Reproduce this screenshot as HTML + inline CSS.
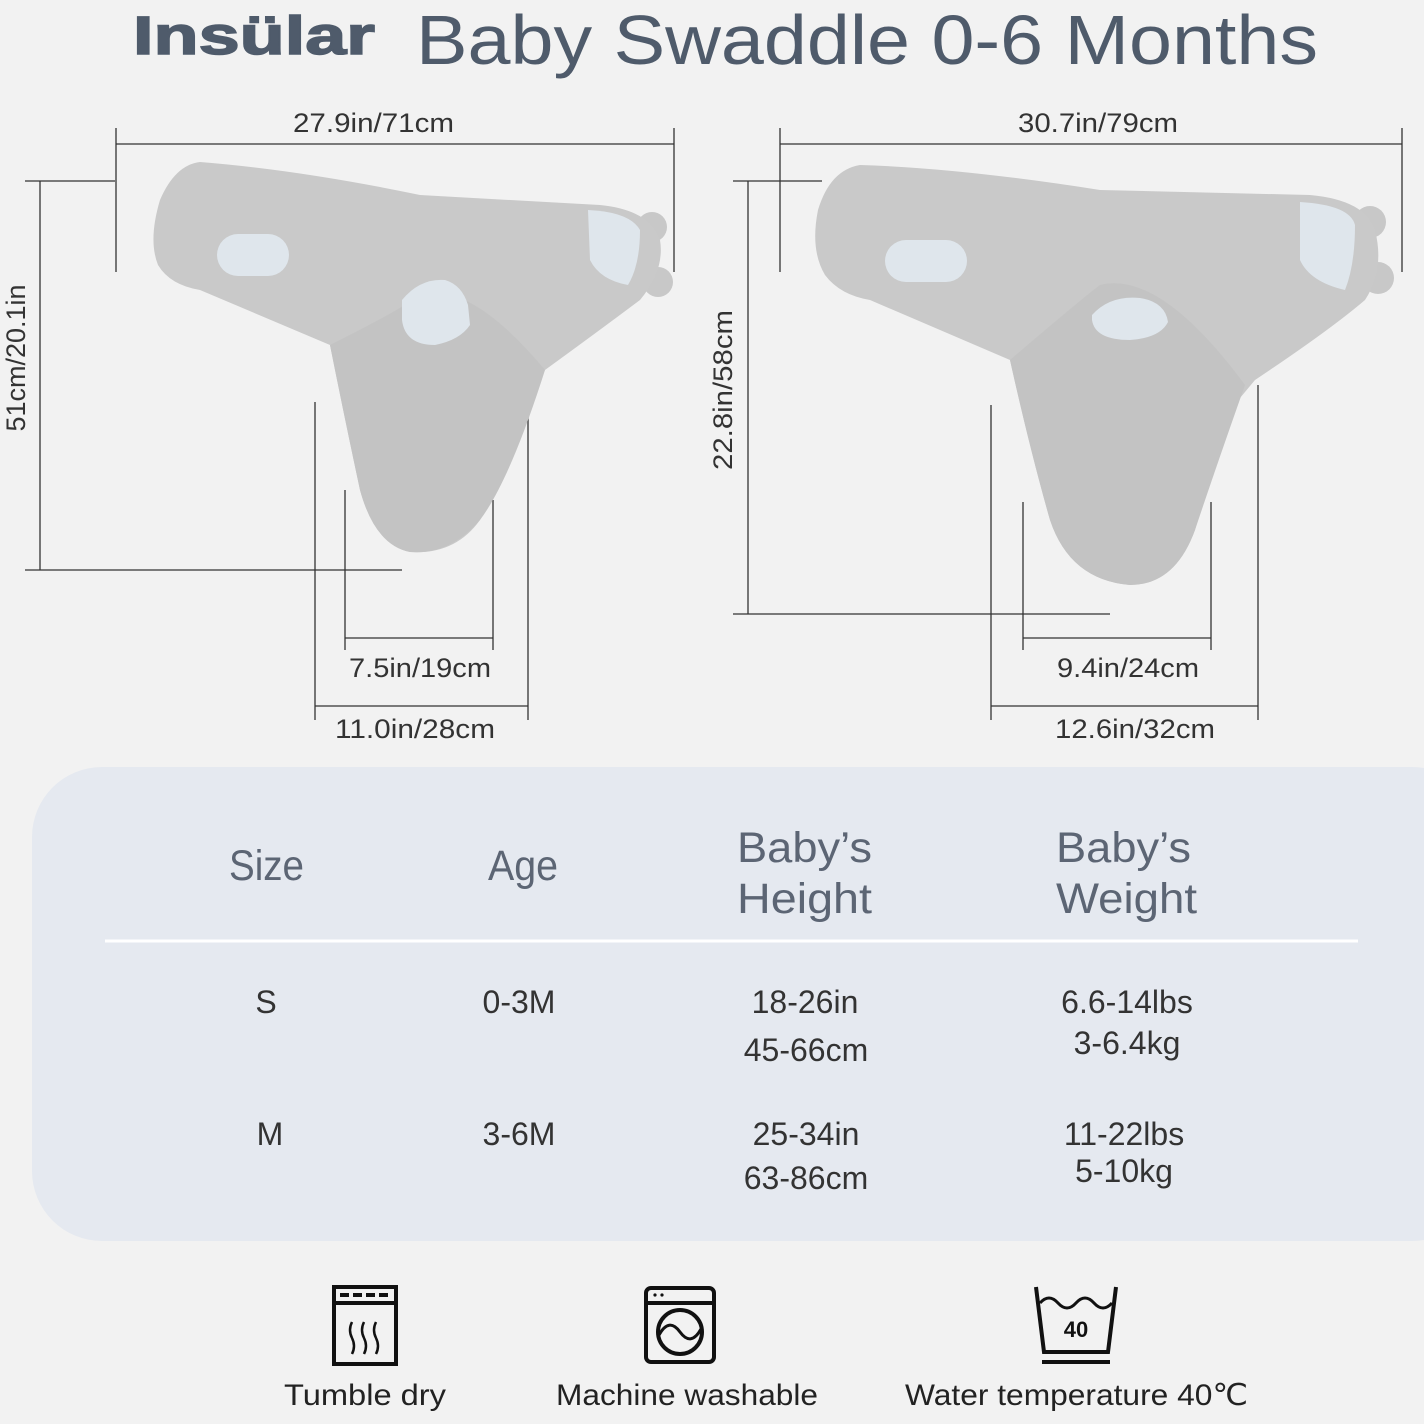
<!DOCTYPE html>
<html><head><meta charset="utf-8"><style>
html,body{margin:0;padding:0;background:#f2f2f2;}
svg{display:block;font-family:"Liberation Sans","DejaVu Sans",sans-serif;}
</style></head><body>
<svg width="1424" height="1424" viewBox="0 0 1424 1424" xmlns="http://www.w3.org/2000/svg">
<rect width="1424" height="1424" fill="#f2f2f2"/>
<!-- title -->
<text x="133" y="54" font-size="54" font-weight="bold" fill="#4f5b6b" textLength="242" lengthAdjust="spacingAndGlyphs" stroke="#4f5b6b" stroke-width="1.5">Insülar</text>
<text x="416" y="64" font-size="70" fill="#4f5b6b" textLength="902" lengthAdjust="spacingAndGlyphs">Baby Swaddle 0-6 Months</text>

<!-- left swaddle dims -->
<g stroke="#333" stroke-width="1.3" fill="none">
<line x1="116" y1="144" x2="674" y2="144"/><line x1="116" y1="128" x2="116" y2="272"/><line x1="674" y1="128" x2="674" y2="272"/>
<line x1="25" y1="181" x2="115" y2="181"/><line x1="40" y1="181" x2="40" y2="570"/><line x1="25" y1="570" x2="402" y2="570"/>
<line x1="345" y1="638" x2="493" y2="638"/><line x1="345" y1="490" x2="345" y2="650"/><line x1="493" y1="500" x2="493" y2="650"/>
<line x1="315" y1="706" x2="528" y2="706"/><line x1="315" y1="402" x2="315" y2="720"/><line x1="528" y1="385" x2="528" y2="720"/>
</g>
<text x="293" y="132" font-size="27" fill="#333" textLength="161" lengthAdjust="spacingAndGlyphs">27.9in/71cm</text>
<text transform="translate(25,358) rotate(-90)" font-size="27" fill="#333" text-anchor="middle">51cm/20.1in</text>
<text x="349" y="677" font-size="27" fill="#333" textLength="142" lengthAdjust="spacingAndGlyphs">7.5in/19cm</text>
<text x="335" y="738" font-size="27" fill="#333" textLength="160" lengthAdjust="spacingAndGlyphs">11.0in/28cm</text>

<!-- left swaddle -->
<g>
<circle cx="652" cy="227" r="15" fill="#c8c8c8"/><circle cx="658" cy="282" r="15" fill="#c8c8c8"/>
<path d="M200 162 Q175 165 160 200 Q148 240 158 265 Q170 285 200 290 L330 345 Q345 420 360 490 Q375 545 410 552 Q455 555 480 520 Q505 470 520 420 L545 370 Q600 330 640 300 Q665 270 660 240 Q650 210 600 205 L420 195 Q300 170 200 162 Z" fill="#c9c9c9"/>
<path d="M330 345 Q400 310 420 295 Q470 280 545 370 Q510 480 480 520 Q450 555 410 552 Q375 545 360 490 Q345 420 330 345 Z" fill="#c3c3c3"/>
<rect x="217" y="234" width="72" height="42" rx="21" fill="#dfe6ec"/>
<path d="M402 300 Q420 278 445 280 Q462 285 468 305 L470 325 Q460 340 435 345 Q405 345 402 320 Z" fill="#dfe6ec"/>
<path d="M588 210 Q630 212 640 230 Q640 265 628 285 Q600 280 590 260 Z" fill="#dfe6ec"/>
</g>

<!-- right swaddle dims -->
<g stroke="#333" stroke-width="1.3" fill="none">
<line x1="780" y1="144" x2="1402" y2="144"/><line x1="780" y1="128" x2="780" y2="272"/><line x1="1402" y1="128" x2="1402" y2="272"/>
<line x1="733" y1="181" x2="822" y2="181"/><line x1="748" y1="181" x2="748" y2="614"/><line x1="733" y1="614" x2="1110" y2="614"/>
<line x1="1023" y1="638" x2="1211" y2="638"/><line x1="1023" y1="502" x2="1023" y2="650"/><line x1="1211" y1="502" x2="1211" y2="650"/>
<line x1="991" y1="706" x2="1258" y2="706"/><line x1="991" y1="405" x2="991" y2="720"/><line x1="1258" y1="385" x2="1258" y2="720"/>
</g>
<text x="1018" y="132" font-size="27" fill="#333" textLength="160" lengthAdjust="spacingAndGlyphs">30.7in/79cm</text>
<text transform="translate(732,390) rotate(-90)" font-size="27" fill="#333" text-anchor="middle" textLength="160" lengthAdjust="spacingAndGlyphs">22.8in/58cm</text>
<text x="1057" y="677" font-size="27" fill="#333" textLength="142" lengthAdjust="spacingAndGlyphs">9.4in/24cm</text>
<text x="1055" y="738" font-size="27" fill="#333" textLength="160" lengthAdjust="spacingAndGlyphs">12.6in/32cm</text>

<g>
<circle cx="1370" cy="222" r="16" fill="#c8c8c8"/><circle cx="1378" cy="278" r="16" fill="#c8c8c8"/>
<path d="M860 165 Q830 170 818 210 Q810 250 825 275 Q840 295 870 300 L1010 360 Q1030 450 1050 520 Q1070 580 1130 585 Q1175 585 1195 530 Q1215 460 1230 410 L1255 380 Q1330 330 1365 300 Q1385 270 1375 230 Q1365 200 1310 195 L1100 190 Q960 168 860 165 Z" fill="#c9c9c9"/>
<path d="M1010 360 Q1080 300 1100 285 Q1160 270 1245 385 Q1215 470 1195 530 Q1175 585 1130 585 Q1070 580 1050 520 Q1030 450 1010 360 Z" fill="#c3c3c3"/>
<rect x="885" y="240" width="82" height="42" rx="21" fill="#dfe6ec"/>
<path d="M1092 315 Q1110 295 1140 298 Q1165 302 1168 322 Q1160 338 1130 340 Q1095 340 1092 320 Z" fill="#dfe6ec"/>
<path d="M1300 202 Q1350 205 1355 225 Q1355 265 1345 290 Q1310 282 1300 260 Z" fill="#dfe6ec"/>
</g>

<!-- table panel -->
<rect x="32" y="767" width="1450" height="474" rx="70" fill="#e5e9f0"/>
<line x1="105" y1="941" x2="1358" y2="941" stroke="#ffffff" stroke-width="3"/>
<g font-size="43" fill="#5c6574">
<text x="229" y="880" textLength="75" lengthAdjust="spacingAndGlyphs">Size</text>
<text x="488" y="880" textLength="70" lengthAdjust="spacingAndGlyphs">Age</text>
<text x="737" y="862" textLength="135" lengthAdjust="spacingAndGlyphs">Baby’s</text><text x="737" y="913" textLength="135" lengthAdjust="spacingAndGlyphs">Height</text>
<text x="1056" y="862" textLength="135" lengthAdjust="spacingAndGlyphs">Baby’s</text><text x="1056" y="913" textLength="141" lengthAdjust="spacingAndGlyphs">Weight</text>
</g>
<g font-size="32" fill="#333" text-anchor="middle">
<text x="266" y="1013">S</text>
<text x="519" y="1013">0-3M</text>
<text x="805" y="1013">18-26in</text><text x="806" y="1061">45-66cm</text>
<text x="1127" y="1013">6.6-14lbs</text><text x="1127" y="1054">3-6.4kg</text>
<text x="270" y="1145">M</text>
<text x="519" y="1145">3-6M</text>
<text x="806" y="1145">25-34in</text><text x="806" y="1189">63-86cm</text>
<text x="1124" y="1145">11-22lbs</text><text x="1124" y="1182">5-10kg</text>
</g>

<!-- icons -->
<g stroke="#111" fill="none" stroke-width="4">
<rect x="334" y="1287" width="62" height="77"/>
<line x1="334" y1="1303" x2="396" y2="1303"/>
<line x1="340" y1="1295" x2="390" y2="1295" stroke-dasharray="9,4"/>
<path d="M352 1322 q-4 8 0 16 q4 8 0 16 M364 1322 q-4 8 0 16 q4 8 0 16 M376 1322 q-4 8 0 16 q4 8 0 16" stroke-width="2.5"/>
<rect x="646" y="1288" width="68" height="74" rx="5"/>
<line x1="646" y1="1303" x2="714" y2="1303"/>
<circle cx="680" cy="1332" r="22"/>
<path d="M659 1335 q10 -18 21 -3 q11 15 21 -3" stroke-width="3"/>
<path d="M1036 1287 L1044 1352 L1108 1352 L1116 1287"/>
<path d="M1040 1303 q9 -10 18 0 q9 10 18 0 q9 -10 18 0 q9 10 18 0" stroke-width="3"/>
<line x1="1042" y1="1362" x2="1110" y2="1362"/>
</g>
<circle cx="655" cy="1295" r="1.6" fill="#111"/><circle cx="662" cy="1295" r="1.6" fill="#111"/>
<text x="1076" y="1337" font-size="22" font-weight="bold" fill="#111" text-anchor="middle">40</text>
<g font-size="30" fill="#222">
<text x="284" y="1405" textLength="162" lengthAdjust="spacingAndGlyphs">Tumble dry</text>
<text x="556" y="1405" textLength="262" lengthAdjust="spacingAndGlyphs">Machine washable</text>
<text x="905" y="1405" textLength="343" lengthAdjust="spacingAndGlyphs">Water temperature 40℃</text>
</g>
</svg>
</body></html>
